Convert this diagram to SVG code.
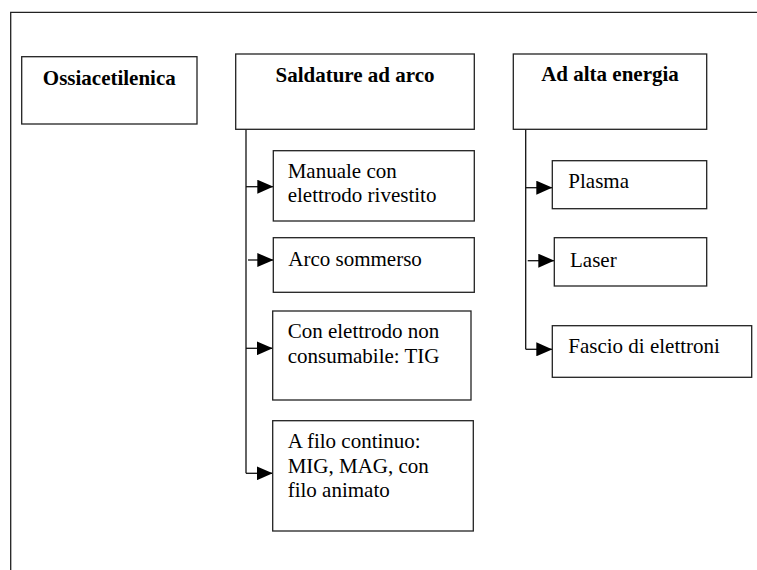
<svg xmlns="http://www.w3.org/2000/svg" width="757" height="570" viewBox="0 0 757 570">
<style>
.box{fill:#fff;stroke:#222;stroke-width:1.3}
.frame{fill:none;stroke:#222;stroke-width:1.3}
.t{font-family:"Liberation Serif","Times New Roman",serif;font-size:21px;fill:#000}
.b{font-weight:bold}
.c{stroke:#111;stroke-width:1.3;fill:none}
</style>
<defs>
<marker id="ah" markerWidth="16" markerHeight="14" refX="16" refY="7" orient="auto" markerUnits="userSpaceOnUse">
<path d="M0,0 L16,7 L0,14 z" fill="#000"/>
</marker>
</defs>
<rect width="757" height="570" fill="#fff"/>
<path class="frame" d="M10.7,575 V12.3 H765"/>
<g id="connectors">
<path class="c" d="M246,129.3 V473.3"/>
<path class="c" d="M246,186.7 H273.3" marker-end="url(#ah)"/>
<path class="c" d="M248,260 H273.3" marker-end="url(#ah)"/>
<path class="c" d="M246,348.3 H272.7" marker-end="url(#ah)"/>
<path class="c" d="M246,473.3 H272.7" marker-end="url(#ah)"/>
<path class="c" d="M525.7,129.3 V349.3"/>
<path class="c" d="M525.7,187.7 H552.3" marker-end="url(#ah)"/>
<path class="c" d="M527.7,260.7 H554.3" marker-end="url(#ah)"/>
<path class="c" d="M525.7,349.3 H552.3" marker-end="url(#ah)"/>
</g>
<g id="ossiacetilenica">
<rect class="box" x="21.7" y="56.7" width="175.3" height="67.3"/>
<text class="t b" x="109.3" y="85" text-anchor="middle">Ossiacetilenica</text>
</g>
<g id="saldature">
<rect class="box" x="235.7" y="54" width="238.6" height="75.3"/>
<text class="t b" x="355" y="81.5" text-anchor="middle">Saldature ad arco</text>
</g>
<g id="alta-energia">
<rect class="box" x="513.3" y="54" width="193.4" height="75.3"/>
<text class="t b" x="610" y="80.7" text-anchor="middle">Ad alta energia</text>
</g>
<g id="manuale">
<rect class="box" x="273.3" y="150.7" width="201" height="70.3"/>
<text class="t" x="287.7" y="177.7">Manuale con</text>
<text class="t" x="287.7" y="202.3">elettrodo rivestito</text>
</g>
<g id="arco-sommerso">
<rect class="box" x="273.3" y="237.7" width="201" height="54.6"/>
<text class="t" x="288.3" y="266">Arco sommerso</text>
</g>
<g id="tig">
<rect class="box" x="272.7" y="311" width="198.3" height="89"/>
<text class="t" x="287.7" y="337.7">Con elettrodo non</text>
<text class="t" x="287.7" y="363.3">consumabile: TIG</text>
</g>
<g id="filo-continuo">
<rect class="box" x="272.7" y="420.7" width="200.6" height="110.3"/>
<text class="t" x="287.7" y="448.3">A filo continuo:</text>
<text class="t" x="287.7" y="473">MIG, MAG, con</text>
<text class="t" x="287.7" y="497.3">filo animato</text>
</g>
<g id="plasma">
<rect class="box" x="552.3" y="160.7" width="154.4" height="48"/>
<text class="t" x="568.3" y="188">Plasma</text>
</g>
<g id="laser">
<rect class="box" x="554.3" y="237.7" width="152.4" height="48.3"/>
<text class="t" x="570" y="266.7">Laser</text>
</g>
<g id="fascio">
<rect class="box" x="552.3" y="325.7" width="199.4" height="51.6"/>
<text class="t" x="568.3" y="353.3">Fascio di elettroni</text>
</g>
</svg>
